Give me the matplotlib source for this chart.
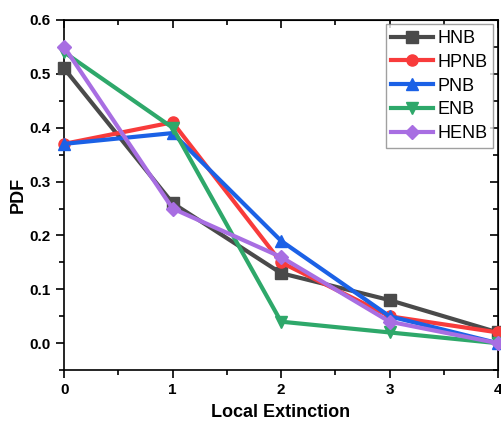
import matplotlib
matplotlib.use("Agg")
import matplotlib.pyplot as plt
from matplotlib.ticker import MultipleLocator

# local extinction counts and PDF values per model
x_vals = [0, 1, 2, 3, 4]
hnb  = [0.51, 0.26, 0.13, 0.08, 0.02]
hpnb = [0.37, 0.41, 0.15, 0.05, 0.02]
pnb  = [0.37, 0.39, 0.19, 0.05, 0.00]
enb  = [0.54, 0.40, 0.04, 0.02, 0.00]
henb = [0.55, 0.25, 0.16, 0.04, 0.00]

series = [
    ("HNB",  hnb,  "#4a4a4a", "s"),
    ("HPNB", hpnb, "#f83b3b", "o"),
    ("PNB",  pnb,  "#1b61e6", "^"),
    ("ENB",  enb,  "#2ea86a", "v"),
    ("HENB", henb, "#a86ee2", "D"),
]

plt.rcParams["font.family"] = ["Liberation Sans", "DejaVu Sans"]

fig = plt.figure(figsize=(5.01, 4.24), dpi=100)
ax = fig.add_axes([0.128, 0.127, 0.866, 0.826])

for name, vals, col, mk in series:
    ax.plot(x_vals, vals, color=col, marker=mk, markersize=8 if mk != "D" else 7.5,
            linewidth=3, label=name, clip_on=False, zorder=3)

ax.set_xlim(0, 4)
ax.set_ylim(-0.05, 0.6)
ax.xaxis.set_major_locator(MultipleLocator(1))
ax.xaxis.set_minor_locator(MultipleLocator(0.5))
ax.yaxis.set_major_locator(MultipleLocator(0.1))
ax.yaxis.set_minor_locator(MultipleLocator(0.05))
ax.yaxis.set_major_formatter(plt.FuncFormatter(lambda v, p: f"{v:.1f}"))

ax.tick_params(which="both", direction="out", width=1.2, labelsize=11)
ax.tick_params(which="major", length=6)
ax.tick_params(which="minor", length=3.5)
for lbl in ax.get_xticklabels() + ax.get_yticklabels():
    lbl.set_fontweight("bold")

# mirrored ticks on top and right
axt = ax.secondary_xaxis("top")
axt.xaxis.set_major_locator(MultipleLocator(1))
axt.xaxis.set_minor_locator(MultipleLocator(0.5))
axt.tick_params(which="both", direction="in", labeltop=False, width=1.2)
axt.tick_params(which="major", length=6)
axt.tick_params(which="minor", length=3.5)
axr = ax.secondary_yaxis("right")
axr.yaxis.set_major_locator(MultipleLocator(0.1))
axr.yaxis.set_minor_locator(MultipleLocator(0.05))
axr.tick_params(which="both", direction="in", labelright=False, width=1.2)
axr.tick_params(which="major", length=6)
axr.tick_params(which="minor", length=3.5)

for sp in ax.spines.values():
    sp.set_linewidth(1.2)

ax.set_xlabel("Local Extinction", fontsize=13, fontweight="bold", labelpad=5)
ax.set_ylabel("PDF", fontsize=13, fontweight="bold", labelpad=2)

leg = ax.legend(loc="upper right", fontsize=13, frameon=True, fancybox=False,
                edgecolor="#888888", handlelength=2.3, handletextpad=0.3,
                labelspacing=0.38, borderpad=0.3, borderaxespad=0.25)
leg.get_frame().set_linewidth(1)

fig.savefig("out.png", dpi=100)
